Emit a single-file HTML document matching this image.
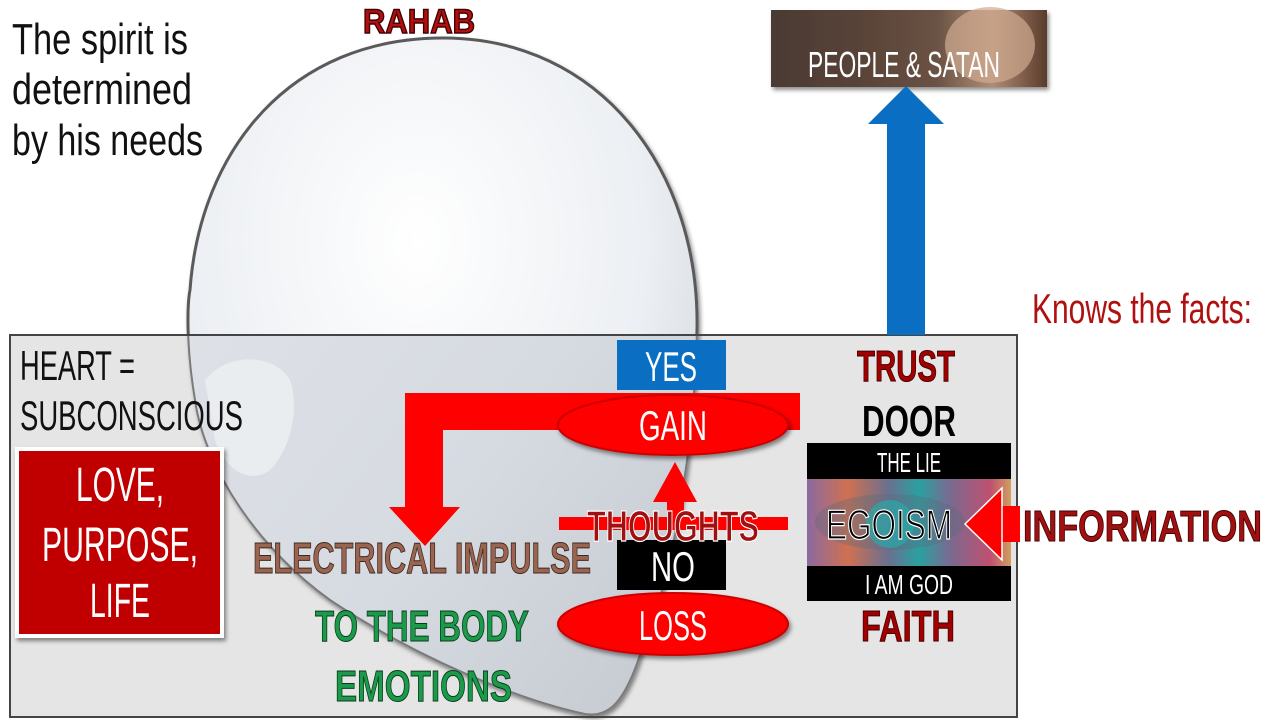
<!DOCTYPE html>
<html><head><meta charset="utf-8"><style>
html,body{margin:0;padding:0;background:#fff;}
svg{display:block;}
</style></head><body>
<svg width="1280" height="720" viewBox="0 0 1280 720" xmlns="http://www.w3.org/2000/svg" font-family="Liberation Sans, sans-serif">
<defs>
<radialGradient id="hg" cx="0.45" cy="0.3" r="0.75">
<stop offset="0" stop-color="#ffffff"/><stop offset="0.6" stop-color="#eceff3"/><stop offset="1" stop-color="#c9ced6"/>
</radialGradient>
<linearGradient id="hg2" x1="0" x2="1" y1="0" y2="1">
<stop offset="0" stop-color="#e2e5ea"/><stop offset="0.6" stop-color="#d6dae1"/><stop offset="1" stop-color="#c4c8cf"/>
</linearGradient>
<linearGradient id="ph" x1="0" x2="1" y1="0" y2="0">
<stop offset="0" stop-color="#4a3a34"/><stop offset="0.35" stop-color="#5a4438"/><stop offset="0.6" stop-color="#6a5244"/><stop offset="0.8" stop-color="#b08c74"/><stop offset="1" stop-color="#5a3c2c"/>
</linearGradient>
<linearGradient id="eye" x1="0" x2="1">
<stop offset="0" stop-color="#8a6aa0"/><stop offset="0.2" stop-color="#d07050"/><stop offset="0.4" stop-color="#6a7090"/><stop offset="0.55" stop-color="#2aa0a0"/><stop offset="0.7" stop-color="#7a6a90"/><stop offset="0.9" stop-color="#c05070"/><stop offset="1" stop-color="#d0a060"/>
</linearGradient>
<filter id="sh" x="-20%" y="-20%" width="140%" height="150%"><feDropShadow dx="2" dy="3" stdDeviation="2" flood-opacity="0.45"/></filter>
<clipPath id="bx"><rect x="11" y="336" width="1005" height="380"/></clipPath>
<path id="head" d="M443 38 C600 38 700 170 697 330 C695 420 680 560 640 655 C625 700 610 718 585 714 C520 700 420 660 330 600 C260 550 205 470 195 400 C185 340 188 300 190 290 C200 150 290 38 443 38 Z"/>
</defs>

<!-- head -->
<use href="#head" fill="url(#hg)" stroke="#5a5a5a" stroke-width="3" filter="url(#sh)"/>

<!-- box -->
<rect x="10" y="335" width="1007" height="382" fill="#e5e5e5" stroke="#444" stroke-width="2"/>
<g clip-path="url(#bx)">
<use href="#head" fill="url(#hg2)" stroke="#7a7a7a" stroke-width="2" filter="url(#sh)"/>
<path d="M205 380 C230 350 275 355 290 380 C300 410 290 450 270 470 C250 485 225 470 215 440 Z" fill="#eef0f3" opacity="0.8"/>
</g>

<!-- top-left text -->
<g font-size="44" fill="#111">
<text x="12" y="54" textLength="176" lengthAdjust="spacingAndGlyphs">The spirit is</text>
<text x="12" y="104" textLength="180" lengthAdjust="spacingAndGlyphs">determined</text>
<text x="12" y="155" textLength="191" lengthAdjust="spacingAndGlyphs">by his needs</text>
</g>
<text x="363" y="33" font-size="34" font-weight="bold" fill="#b01010" stroke="#400" stroke-width="1.5" textLength="112" lengthAdjust="spacingAndGlyphs">RAHAB</text>

<!-- photo -->
<rect x="771" y="10" width="276" height="77" fill="url(#ph)" filter="url(#sh)"/>
<ellipse cx="990" cy="45" rx="45" ry="38" fill="#d0ab92" opacity="0.7"/>
<text x="808" y="77" font-size="36" fill="#fff" textLength="192" lengthAdjust="spacingAndGlyphs">PEOPLE &amp; SATAN</text>

<!-- blue arrow -->
<rect x="887" y="123" width="38" height="212" fill="#0a6fc2"/>
<polygon points="868,124 944,124 906,86" fill="#0a6fc2"/>

<text x="1032" y="323" font-size="42" fill="#b01010" textLength="220" lengthAdjust="spacingAndGlyphs">Knows the facts:</text>

<!-- heart text -->
<g font-size="42" fill="#111">
<text x="20" y="380" textLength="115" lengthAdjust="spacingAndGlyphs">HEART =</text>
<text x="20" y="430" textLength="223" lengthAdjust="spacingAndGlyphs">SUBCONSCIOUS</text>
</g>
<rect x="17" y="449" width="205" height="187" fill="#c00000" stroke="#fff" stroke-width="4" filter="url(#sh)"/>
<g font-size="48" fill="#fff" text-anchor="middle">
<text x="120" y="501" textLength="88" lengthAdjust="spacingAndGlyphs">LOVE,</text>
<text x="120" y="561" textLength="156" lengthAdjust="spacingAndGlyphs">PURPOSE,</text>
<text x="120" y="617" textLength="60" lengthAdjust="spacingAndGlyphs">LIFE</text>
</g>

<!-- red L arrow -->
<path d="M800 393 L800 430 L443 430 L443 507 L460 507 L425 546 L389 507 L405 507 L405 393 Z" fill="#ff0000"/>

<!-- YES -->
<rect x="617" y="340" width="109" height="50" fill="#0a6fc2"/>
<text x="671" y="381" font-size="42" fill="#fff" text-anchor="middle" textLength="52" lengthAdjust="spacingAndGlyphs">YES</text>

<!-- GAIN -->
<ellipse cx="673" cy="425" rx="115" ry="30" fill="#ff0000" stroke="#c00" stroke-width="2" filter="url(#sh)"/>
<text x="673" y="440" font-size="42" fill="#fff" text-anchor="middle" textLength="68" lengthAdjust="spacingAndGlyphs">GAIN</text>

<!-- up arrow + line -->
<rect x="667" y="500" width="17" height="25" fill="#ff0000"/>
<polygon points="653,502 697,502 675,462" fill="#ff0000"/>
<rect x="559" y="517" width="229" height="13" fill="#ff0000"/>

<!-- NO -->
<rect x="617" y="540" width="109" height="50" fill="#000"/>
<text x="673" y="581" font-size="42" fill="#fff" text-anchor="middle" textLength="44" lengthAdjust="spacingAndGlyphs">NO</text>

<text x="673" y="541" font-size="44" font-weight="bold" fill="#a01010" stroke="#fff" stroke-width="1.2" text-anchor="middle" textLength="172" lengthAdjust="spacingAndGlyphs">THOUGHTS</text>

<!-- LOSS -->
<ellipse cx="673" cy="624" rx="115" ry="31" fill="#ff0000" stroke="#c00" stroke-width="2" filter="url(#sh)"/>
<text x="673" y="640" font-size="42" fill="#fff" text-anchor="middle" textLength="68" lengthAdjust="spacingAndGlyphs">LOSS</text>

<!-- brown/green text -->
<text x="253" y="573" font-size="44" font-weight="bold" fill="#9a6450" stroke="#3a2a20" stroke-width="1" textLength="338" lengthAdjust="spacingAndGlyphs">ELECTRICAL IMPULSE</text>
<text x="315" y="641" font-size="44" font-weight="bold" fill="#1a9a4a" stroke="#0a3a1a" stroke-width="1" textLength="214" lengthAdjust="spacingAndGlyphs">TO THE BODY</text>
<text x="335" y="701" font-size="44" font-weight="bold" fill="#1a9a4a" stroke="#0a3a1a" stroke-width="1" textLength="177" lengthAdjust="spacingAndGlyphs">EMOTIONS</text>

<!-- right column -->
<text x="906" y="381" font-size="44" font-weight="bold" fill="#a00000" stroke="#400" stroke-width="1" text-anchor="middle" textLength="98" lengthAdjust="spacingAndGlyphs">TRUST</text>
<text x="909" y="436" font-size="44" font-weight="bold" fill="#000" text-anchor="middle" textLength="94" lengthAdjust="spacingAndGlyphs">DOOR</text>
<rect x="807" y="443" width="204" height="36" fill="#000"/>
<text x="909" y="472" font-size="28" fill="#fff" text-anchor="middle" textLength="64" lengthAdjust="spacingAndGlyphs">THE LIE</text>
<rect x="807" y="479" width="204" height="87" fill="url(#eye)"/>
<ellipse cx="890" cy="522" rx="75" ry="28" fill="#5a6a7a" opacity="0.35"/>
<circle cx="890" cy="524" r="24" fill="#2aa8a8" opacity="0.7"/>
<rect x="807" y="566" width="204" height="35" fill="#000"/>
<text x="909" y="594" font-size="28" fill="#fff" text-anchor="middle" textLength="88" lengthAdjust="spacingAndGlyphs">I AM GOD</text>
<text x="889" y="539" font-size="42" fill="#000" stroke="#fff" stroke-width="1.2" text-anchor="middle" textLength="126" lengthAdjust="spacingAndGlyphs">EGOISM</text>
<text x="908" y="641" font-size="44" font-weight="bold" fill="#a00000" stroke="#400" stroke-width="1" text-anchor="middle" textLength="94" lengthAdjust="spacingAndGlyphs">FAITH</text>

<!-- information arrow -->
<rect x="998" y="506" width="22" height="36" fill="#ff0000"/>
<polygon points="965,524 1002,488 1002,560" fill="#ff0000" stroke="#fff" stroke-width="1.5"/>
<text x="1023" y="541" font-size="44" font-weight="bold" fill="#a01010" stroke="#400" stroke-width="1" textLength="239" lengthAdjust="spacingAndGlyphs">INFORMATION</text>
</svg>
</body></html>
